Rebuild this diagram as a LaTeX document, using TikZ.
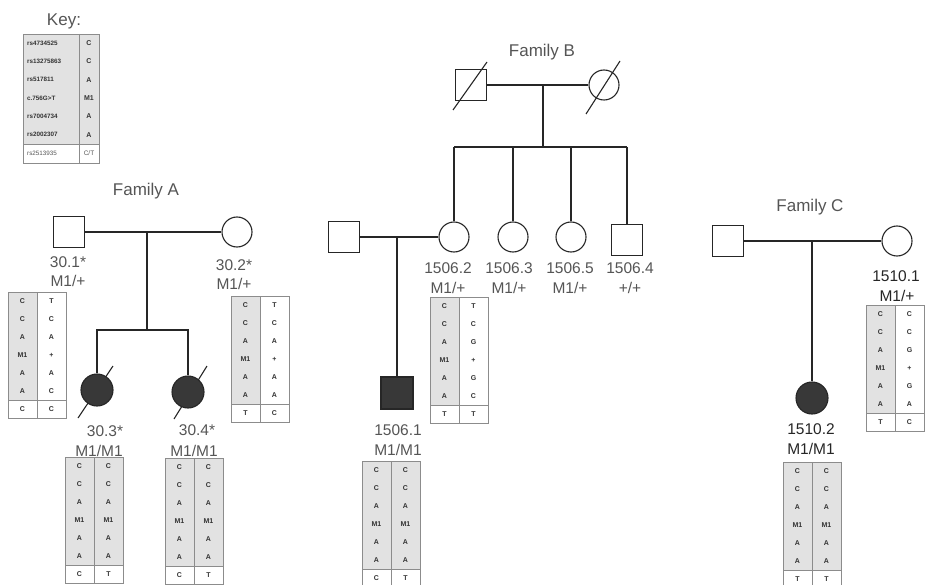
\documentclass[tikz,border=0pt]{standalone}
\usepackage{fontspec}
\setmainfont{Liberation Sans}
\definecolor{linec}{HTML}{262626}
\definecolor{labc}{HTML}{555555}
\definecolor{affc}{HTML}{383838}
\definecolor{shadec}{HTML}{E2E2E2}
\definecolor{tabc}{HTML}{8C8C8C}
\definecolor{alc}{HTML}{333333}
\tikzset{
  ped/.style={draw=linec, line width=1.1pt},
  male/.style={ped, rectangle, minimum size=31pt, inner sep=0pt},
  female/.style={ped, circle, minimum size=30pt, inner sep=0pt},
  affected/.style={fill=affc, minimum size=32pt},
  lab/.style={text=labc, font=\fontsize{15.5}{16}\selectfont, inner sep=0pt},
  famtitle/.style={text=labc, font=\fontsize{17}{18}\selectfont, inner sep=0pt},
  allele/.style={text=alc, font=\bfseries\fontsize{7}{7}\selectfont, inner sep=0pt},
  tabline/.style={draw=tabc, line width=0.8pt},
}
% #1 x, #2 y, #3 left fill, #4 right fill, #5 rows
\newcommand{\haptab}[5]{%
\begin{scope}[shift={(#1,#2)}]
  \fill[#3] (0,0) rectangle (29,108);
  \fill[#4] (29,0) rectangle (58,108);
  \draw[tabline] (0,0) rectangle (58,126);
  \draw[tabline] (29,0) -- (29,126);
  \draw[tabline] (0,108) -- (58,108);
  \foreach \la/\ra [count=\i] in {#5} {
    \node[allele] at (14.5,{(\i-0.5)*18}) {\la};
    \node[allele] at (43.5,{(\i-0.5)*18}) {\ra};
  }
\end{scope}}
\begin{document}
\begin{tikzpicture}[x=1pt,y=-1pt]
\useasboundingbox (0,0) rectangle (925,585);
\clip (0,0) rectangle (925,585);

% ---------- Key ----------
\node[famtitle] (keytitle) at (64,21) {Key:};
\begin{scope}[shift={(23,34)}]
  \fill[shadec] (0,0) rectangle (76,110);
  \draw[tabline] (0,0) rectangle (76,129);
  \draw[tabline] (56,0) -- (56,129);
  \draw[tabline] (0,110) -- (76,110);
  \foreach \nm/\vl [count=\i] in {rs4734525/C, rs13275863/C, rs517811/A, c.756G>T/M1, rs7004734/A, rs2002307/A} {
    \node[allele, anchor=west, font=\bfseries\fontsize{6.3}{7}\selectfont] at (4,{(\i-0.5)*18.3}) {\nm};
    \node[allele] at (66,{(\i-0.5)*18.3}) {\vl};
  }
  \node[allele, anchor=west, text=labc, font=\fontsize{6.3}{7}\selectfont] at (4,119.5) {rs2513935};
  \node[allele, text=labc, font=\fontsize{6.5}{7}\selectfont] at (66,119.5) {C/T};
\end{scope}

% ---------- Family A ----------
\node[famtitle] (titleA) at (146,191) {Family A};
% deceased slashes (drawn first, hidden by the filled symbols)
\coordinate (A3sa) at (78,418);
\coordinate (A3sb) at (113,366);
\coordinate (A4sa) at (174,419);
\coordinate (A4sb) at (207,366);
\draw[ped] (A3sa) -- (A3sb);
\draw[ped] (A4sa) -- (A4sb);
\node[male] (A1) at (69,232) {};
\node[female] (A2) at (237,232) {};
\node[female, affected] (A3) at (97,390) {};
\node[female, affected] (A4) at (188,392) {};
\coordinate (mA) at (147,232);
\coordinate (sA) at (147,330);
\draw[ped] (A1) -- (A2);
\draw[ped] (mA) -- (sA);
\draw[ped] (A3.north) -- (A3.north |- sA) -- (A4.north |- sA) -- (A4.north);
\node[lab] (lA1) at (68,262) {30.1*};
\node[lab] (gA1) at (68,281) {M1/+};
\node[lab] (lA2) at (234,265) {30.2*};
\node[lab] (gA2) at (234,284) {M1/+};
\node[lab] (lA3) at (105,431) {30.3*};
\node[lab] (gA3) at (99,451) {M1/M1};
\node[lab] (lA4) at (197,430) {30.4*};
\node[lab] (gA4) at (194,451) {M1/M1};
\haptab{8}{292}{shadec}{white}{C/T, C/C, A/A, M1/+, A/A, A/C, C/C}
\haptab{231}{296}{shadec}{white}{C/T, C/C, A/A, M1/+, A/A, A/A, T/C}
\haptab{65}{457}{shadec}{shadec}{C/C, C/C, A/A, M1/M1, A/A, A/A, C/T}
\haptab{165}{458}{shadec}{shadec}{C/C, C/C, A/A, M1/M1, A/A, A/A, C/T}

% ---------- Family B ----------
\node[famtitle] (titleB) at (542,52) {Family B};
\node[male] (B1) at (471,85) {};
\node[female] (B2) at (604,85) {};
\draw[ped] ([shift={(-18,25)}]B1.center) -- ([shift={(16,-23)}]B1.center);
\draw[ped] ([shift={(-18,29)}]B2.center) -- ([shift={(16,-24)}]B2.center);
\coordinate (mB) at (543,85);
\coordinate (sB) at (543,147);
\draw[ped] (B1) -- (B2);
\draw[ped] (mB) -- (sB);
\node[female] (B3) at (454,237) {};
\node[female] (B4) at (513,237) {};
\node[female] (B5) at (571,237) {};
\node[male] (B6) at (627,240) {};
\draw[ped] (B3.north |- sB) -- (B6.north |- sB);
\foreach \n in {B3,B4,B5,B6} \draw[ped] (\n.north |- sB) -- (\n.north);
\node[male] (Bs) at (344,237) {};
\node[male, affected] (B7) at (397,393) {};
\coordinate (mBs) at (397,237);
\draw[ped] (Bs) -- (B3);
\draw[ped] (mBs) -- (B7.north);
\node[lab] (lB3) at (448,268) {1506.2};
\node[lab] (gB3) at (448,288) {M1/+};
\node[lab] (lB4) at (509,268) {1506.3};
\node[lab] (gB4) at (509,288) {M1/+};
\node[lab] (lB5) at (570,268) {1506.5};
\node[lab] (gB5) at (570,288) {M1/+};
\node[lab] (lB6) at (630,268) {1506.4};
\node[lab] (gB6) at (630,288) {+/+};
\node[lab] (lB7) at (398,430) {1506.1};
\node[lab] (gB7) at (398,450) {M1/M1};
\haptab{430}{297}{shadec}{white}{C/T, C/C, A/G, M1/+, A/G, A/C, T/T}
\haptab{362}{461}{shadec}{shadec}{C/C, C/C, A/A, M1/M1, A/A, A/A, C/T}

% ---------- Family C ----------
\node[famtitle] (titleC) at (810,207) {Family C};
\node[male] (C1) at (728,241) {};
\node[female] (C2) at (897,241) {};
\node[female, affected] (C3) at (812,398) {};
\coordinate (mC) at (812,241);
\draw[ped] (C1) -- (C2);
\draw[ped] (mC) -- (C3.north);
\node[lab, text=black!85] (lC2) at (896,276) {1510.1};
\node[lab, text=black!85] (gC2) at (897,296) {M1/+};
\node[lab, text=black!85] (lC3) at (811,429) {1510.2};
\node[lab, text=black!85] (gC3) at (811,449) {M1/M1};
\haptab{866}{305}{shadec}{white}{C/C, C/C, A/G, M1/+, A/G, A/A, T/C}
\haptab{783}{462}{shadec}{shadec}{C/C, C/C, A/A, M1/M1, A/A, A/A, T/T}
\end{tikzpicture}
\end{document}
